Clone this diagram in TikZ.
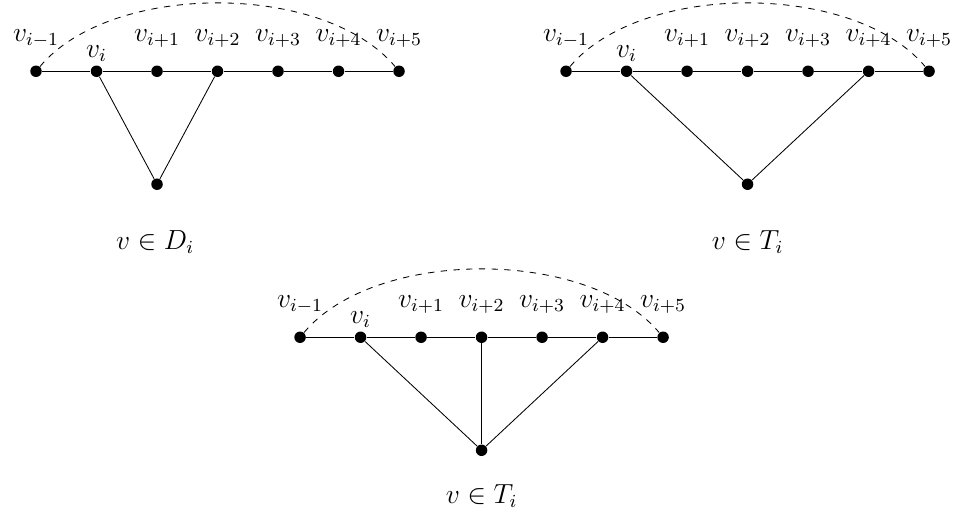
\documentclass[tikz,border=0pt]{standalone}
\tikzset{
  vertex/.style={circle, fill, inner sep=0pt, minimum size=5.4pt},
  txt/.style={font=\large, scale=1.083},
  every label/.style={txt},
  far/.style={label distance=4pt},
  near/.style={label distance=-2pt}
}
\begin{document}
\begin{tikzpicture}
  \useasboundingbox (0,0) rectangle (15.75,8.5);
  % v in D_i
  \begin{scope}[shift={(0.595,7.322)}]
    \node[vertex, label={[far]above:$v_{i-1}$}] (a0) at (0,0) {};
    \node[vertex, label={[near]above:$v_i$}] (a1) at (1,0) {};
    \node[vertex, label={[far]above:$v_{i+1}$}] (a2) at (2,0) {};
    \node[vertex, label={[far]above:$v_{i+2}$}] (a3) at (3,0) {};
    \node[vertex, label={[far]above:$v_{i+3}$}] (a4) at (4,0) {};
    \node[vertex, label={[far]above:$v_{i+4}$}] (a5) at (5,0) {};
    \node[vertex, label={[far]above:$v_{i+5}$}] (a6) at (6,0) {};
    \node[vertex] (av) at (2,-1.867) {};
    \node[txt] (acap) at (1.97,-2.826) {$v \in D_i$};
    \draw (a0) -- (a1) -- (a2) -- (a3) -- (a4) -- (a5) -- (a6);
    \draw (a1) -- (av) -- (a3);
    \draw[dashed] (a0) to[out=50, in=130, looseness=0.8] (a6);
  \end{scope}
  % v in T_i
  \begin{scope}[shift={(9.355,7.322)}]
    \node[vertex, label={[far]above:$v_{i-1}$}] (b0) at (0,0) {};
    \node[vertex, label={[near]above:$v_i$}] (b1) at (1,0) {};
    \node[vertex, label={[far]above:$v_{i+1}$}] (b2) at (2,0) {};
    \node[vertex, label={[far]above:$v_{i+2}$}] (b3) at (3,0) {};
    \node[vertex, label={[far]above:$v_{i+3}$}] (b4) at (4,0) {};
    \node[vertex, label={[far]above:$v_{i+4}$}] (b5) at (5,0) {};
    \node[vertex, label={[far]above:$v_{i+5}$}] (b6) at (6,0) {};
    \node[vertex] (bv) at (3,-1.867) {};
    \node[txt] (bcap) at (3,-2.826) {$v \in T_i$};
    \draw (b0) -- (b1) -- (b2) -- (b3) -- (b4) -- (b5) -- (b6);
    \draw (b1) -- (bv) -- (b5);
    \draw[dashed] (b0) to[out=50, in=130, looseness=0.8] (b6);
  \end{scope}
  % v in T_i, with middle edge
  \begin{scope}[shift={(4.959,2.926)}]
    \node[vertex, label={[far]above:$v_{i-1}$}] (c0) at (0,0) {};
    \node[vertex, label={[near]above:$v_i$}] (c1) at (1,0) {};
    \node[vertex, label={[far]above:$v_{i+1}$}] (c2) at (2,0) {};
    \node[vertex, label={[far]above:$v_{i+2}$}] (c3) at (3,0) {};
    \node[vertex, label={[far]above:$v_{i+3}$}] (c4) at (4,0) {};
    \node[vertex, label={[far]above:$v_{i+4}$}] (c5) at (5,0) {};
    \node[vertex, label={[far]above:$v_{i+5}$}] (c6) at (6,0) {};
    \node[vertex] (cv) at (3,-1.868) {};
    \node[txt] (ccap) at (3,-2.628) {$v \in T_i$};
    \draw (c0) -- (c1) -- (c2) -- (c3) -- (c4) -- (c5) -- (c6);
    \draw (c1) -- (cv) -- (c5);
    \draw (c3) -- (cv);
    \draw[dashed] (c0) to[out=50, in=130, looseness=0.8] (c6);
  \end{scope}
\end{tikzpicture}
\end{document}
